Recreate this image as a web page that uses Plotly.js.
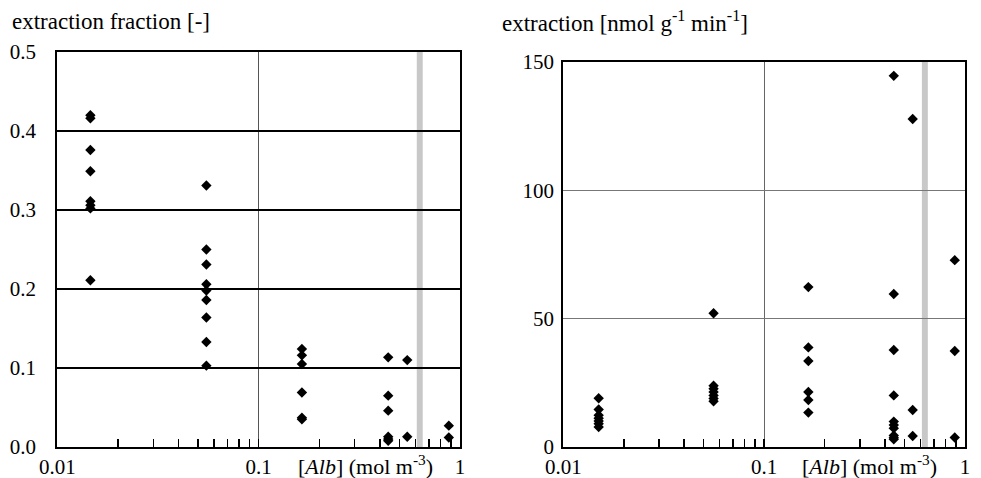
<!DOCTYPE html>
<html>
<head>
<meta charset="utf-8">
<script src="https://cdn.plot.ly/plotly-3.0.1.min.js"></script>
<style>html,body{margin:0;padding:0;background:#fff;}#chart{width:981px;height:478px;}</style>
</head>
<body>
<div id="chart"></div>
<script>
// Albumin concentration (mol m^-3) of each measurement group
const concLeft = [0.0146, 0.055, 0.164, 0.44, 0.547, 0.88];
const concRight = [0.0150, 0.0560, 0.166, 0.442, 0.549, 0.889];

// Left panel: extraction fraction [-]
const fracG1 = [0.420, 0.416, 0.376, 0.349, 0.311, 0.306, 0.302, 0.211];
const fracG2 = [0.331, 0.250, 0.231, 0.206, 0.198, 0.186, 0.164, 0.133, 0.103];
const fracG3 = [0.124, 0.116, 0.105, 0.069, 0.037, 0.035];
const fracG4 = [0.1135, 0.065, 0.046, 0.013, 0.010, 0.008];
const fracG5 = [0.110, 0.013];
const fracG6 = [0.027, 0.012];

// Right panel: extraction [nmol g-1 min-1]
const extrG1 = [19.0, 14.6, 12.4, 11.2, 10.1, 9.1, 7.8];
const extrG2 = [52.1, 23.9, 22.7, 21.4, 20.1, 18.9, 17.8];
const extrG3 = [62.3, 38.8, 33.5, 21.4, 18.3, 13.4];
const extrG4 = [144.6, 59.6, 37.8, 20.1, 9.9, 8.6, 7.3, 4.5, 3.6, 3.0];
const extrG5 = [127.8, 14.4, 4.3];
const extrG6 = [72.8, 37.4, 3.7];

// Tick labels
const xTickVals = [0.01, 0.1, 1];
const xTickText = ['0.01', '0.1', '1'];
const xMinorVals = [0.02,0.03,0.04,0.05,0.06,0.07,0.08,0.09,0.2,0.3,0.4,0.5,0.6,0.7,0.8,0.9];
const leftYTicks = [0, 0.1, 0.2, 0.3, 0.4, 0.5];
const leftYText = ['0.0', '0.1', '0.2', '0.3', '0.4', '0.5'];
const rightYTicks = [0, 50, 100, 150];
const rightYText = ['0', '50', '100', '150'];

// Gray band position (mol m^-3)
const bandX = [0.610, 0.653];

function flatten(concs, groups) {
  const xs = [], ys = [];
  groups.forEach((g, i) => g.forEach(v => { xs.push(concs[i]); ys.push(v); }));
  return {x: xs, y: ys};
}
const L = flatten(concLeft, [fracG1, fracG2, fracG3, fracG4, fracG5, fracG6]);
const R = flatten(concRight, [extrG1, extrG2, extrG3, extrG4, extrG5, extrG6]);

const FONT = 'Liberation Serif, Times New Roman, serif';
const FS = 23;
const TFS = 21;
const AFS = 22;
const marker = {symbol: 'diamond', size: 8, color: '#000'};

const traces = [
  {x: L.x, y: L.y, type: 'scatter', mode: 'markers', marker: marker, xaxis: 'x', yaxis: 'y', hoverinfo: 'x+y'},
  {x: R.x, y: R.y, type: 'scatter', mode: 'markers', marker: marker, xaxis: 'x2', yaxis: 'y2', hoverinfo: 'x+y'}
];

function xAxis(domain, anchor, gridcolor) {
  return {
    type: 'log', range: [-2, 0], domain: domain, anchor: anchor,
    tickmode: 'array', tickvals: xTickVals, ticktext: xTickText,
    ticks: 'inside', ticklen: 8, tickwidth: 1.5, tickcolor: '#000',
    ticklabelstandoff: 0,
    showline: true, linecolor: '#000', linewidth: 2, mirror: true,
    showgrid: true, gridcolor: gridcolor, gridwidth: 1,
    minor: {tickmode: 'array', tickvals: xMinorVals, ticks: 'inside', ticklen: 8, tickwidth: 1.5, tickcolor: '#000', showgrid: false},
    tickfont: {family: FONT, size: TFS, color: '#000'},
    zeroline: false, fixedrange: true
  };
}
function yAxis(domain, anchor, range, vals, text, gridcolor, gw, standoff) {
  return {
    range: range, domain: domain, anchor: anchor,
    tickmode: 'array', tickvals: vals, ticktext: text,
    ticks: '', ticklabelstandoff: standoff,
    showline: true, linecolor: '#000', linewidth: 2, mirror: true,
    showgrid: true, gridcolor: gridcolor, gridwidth: gw,
    tickfont: {family: FONT, size: TFS, color: '#000'},
    zeroline: false, fixedrange: true
  };
}

const layout = {
  width: 981, height: 478,
  margin: {l: 0, r: 0, t: 0, b: 0},
  paper_bgcolor: '#fff', plot_bgcolor: '#fff',
  showlegend: false,
  font: {family: FONT, size: FS, color: '#000'},
  xaxis: xAxis([57.3/981, 460/981], 'y', '#555'),
  yaxis: yAxis([1 - 447/478, 1 - 52/478], 'x', [0, 0.5], leftYTicks, leftYText, '#000', 1.6, 15),
  xaxis2: xAxis([563.3/981, 965/981], 'y2', '#666'),
  yaxis2: yAxis([1 - 447/478, 1 - 62/478], 'x2', [0, 150], rightYTicks, rightYText, '#777', 1.4, 3),
  shapes: [
    {type: 'rect', xref: 'x', yref: 'y domain', x0: bandX[0], x1: bandX[1], y0: 0, y1: 1, fillcolor: '#c8c8c8', line: {width: 0}, layer: 'below'},
    {type: 'rect', xref: 'x2', yref: 'y2 domain', x0: bandX[0], x1: bandX[1], y0: 0, y1: 1, fillcolor: '#c8c8c8', line: {width: 0}, layer: 'below'}
  ],
  annotations: [
    {xref: 'paper', yref: 'paper', x: 10/981, y: 1 - 22/478, xanchor: 'left', yanchor: 'middle', showarrow: false,
     text: 'extraction fraction [-]', font: {family: FONT, size: FS, color: '#000'}},
    {xref: 'paper', yref: 'paper', x: 500/981, y: 1 - 22/478, xanchor: 'left', yanchor: 'middle', showarrow: false,
     text: 'extraction [nmol g<sup>-1</sup> min<sup>-1</sup>]', font: {family: FONT, size: FS, color: '#000'}},
    {xref: 'paper', yref: 'paper', x: 365/981, y: 1 - 465/478, xanchor: 'center', yanchor: 'middle', showarrow: false,
     text: '[<i>Alb</i>] (mol m<sup>-3</sup>)', font: {family: FONT, size: AFS, color: '#000'}},
    {xref: 'paper', yref: 'paper', x: 869/981, y: 1 - 465/478, xanchor: 'center', yanchor: 'middle', showarrow: false,
     text: '[<i>Alb</i>] (mol m<sup>-3</sup>)', font: {family: FONT, size: AFS, color: '#000'}}
  ]
};

Plotly.newPlot('chart', traces, layout, {displayModeBar: false, staticPlot: true});
</script>
</body>
</html>
